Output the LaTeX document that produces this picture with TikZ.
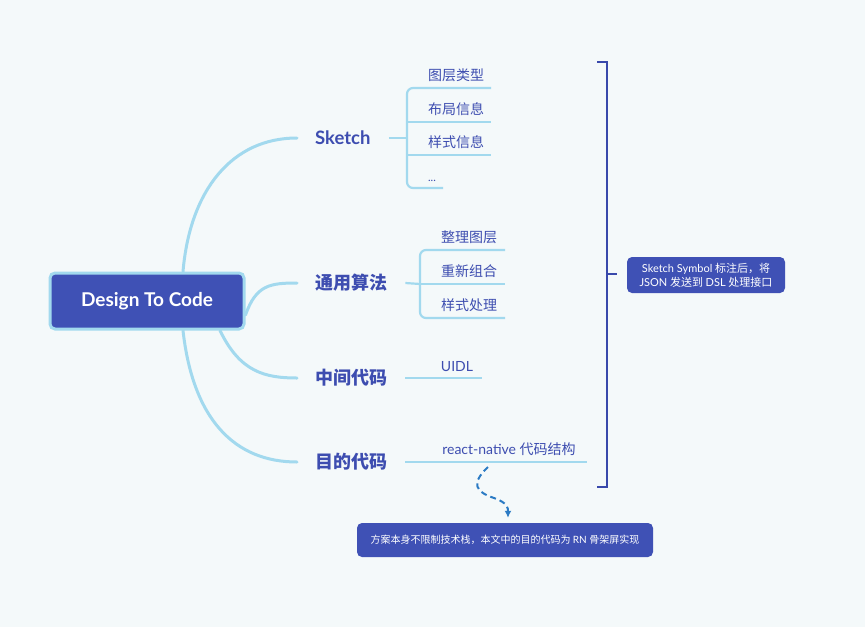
\documentclass[tikz,border=0pt]{standalone}
\usepackage{fontspec}
\setmainfont{Lato}
\newfontfamily\cjk{Noto Sans CJK SC}
\usetikzlibrary{arrows.meta}

\definecolor{bgcol}{HTML}{F4F9FA}
\definecolor{indigo}{HTML}{3F51B5}
\definecolor{skyline}{HTML}{A2D9EE}
\definecolor{topictext}{HTML}{3D4DB0}
\definecolor{bracecol}{HTML}{3949AB}
\definecolor{arrowcol}{HTML}{2B7BC4}

\tikzset{
  branch/.style={draw=skyline, line width=3pt, line cap=round},
  twig/.style={draw=skyline, line width=2.2pt, rounded corners=6pt},
  topic/.style={anchor=west, inner xsep=18pt, text=topictext, font=\cjk\bfseries\fontsize{18}{20}\selectfont},
  leaf/.style={anchor=south, inner xsep=3pt, inner ysep=6pt, text=topictext, font=\cjk\fontsize{14}{16}\selectfont},
  callout/.style={fill=indigo, rounded corners=5pt, text=white, align=center, font=\cjk\fontsize{10}{14}\selectfont}
}

\begin{document}
\begin{tikzpicture}[x=1pt, y=-1pt]

% background
\fill[bgcol] (0,0) rectangle (865,627);
\useasboundingbox (0,0) rectangle (865,627);

% central topic
\node[fill=indigo, draw=skyline, line width=3pt, rounded corners=5pt,
      minimum width=194pt, minimum height=56pt, text=white,
      font=\bfseries\fontsize{19}{21}\selectfont] (dtc) at (147,301) {Design To Code};

% main topics
\node[topic, font=\bfseries\fontsize{18.5}{20}\selectfont] (sketch) at (297,138) {Sketch};
\node[topic] (algo) at (297,283) {通用算法};
\node[topic] (mid) at (297,378) {中间代码};
\node[topic] (target) at (297,462) {目的代码};

% branches
\draw[branch] ([xshift=36pt]dtc.north) .. controls (190,190) and (232,138) .. (sketch.west);
\draw[branch] ([yshift=-14pt]dtc.east) .. controls (256,285) and (270,283) .. (algo.west);
\draw[branch] ([xshift=73pt]dtc.south) .. controls (240,372) and (265,378) .. (mid.west);
\draw[branch] ([xshift=36pt]dtc.south) .. controls (193,420) and (235,462) .. (target.west);

% Sketch leaves
\coordinate (sk) at (407,138);
\draw[twig] (sketch.east) -- (sk);
\draw[twig] (491,88) -- (407,88) -- (407,188) -- (443,188);
\draw[twig] (407,122) -- (491,122);
\draw[twig] (407,155) -- (491,155);
\node[leaf] (layertype) at (456,88) {图层类型};
\node[leaf] (layout) at (456,122) {布局信息};
\node[leaf] (style) at (456,155) {样式信息};
\node[leaf, font=\fontsize{11}{12}\selectfont] (more) at (432,188) {...};

% algorithm leaves
\coordinate (al) at (420,284);
\draw[twig] (algo.east) -- (al);
\draw[twig] (505,250) -- (420,250) -- (420,318) -- (505,318);
\draw[twig] (al) -- (505,284);
\node[leaf] (tidy) at (469,250) {整理图层};
\node[leaf] (regroup) at (469,284) {重新组合};
\node[leaf] (styleproc) at (469,318) {样式处理};

% intermediate code leaf
\coordinate (uidlend) at (482,378);
\draw[twig] (mid.east) -- (uidlend);
\node[leaf, font=\fontsize{14}{16}\selectfont] (uidl) at (457,378) {UIDL};

% target code leaf
\coordinate (rnend) at (587,462);
\draw[twig] (target.east) -- (rnend);
\node[leaf] (rn) at (509,462) {\rmfamily react-native \cjk 代码结构};

% big bracket
\draw[bracecol, line width=2.5pt] (597,62) -- (607,62) -- (607,487) -- (597,487);
\coordinate (bracemid) at (607,274);
\coordinate (bracetick) at (617,274);
\draw[bracecol, line width=2.5pt] (bracemid) -- (bracetick);

% callouts
\node[callout, minimum width=158pt, minimum height=36pt, font=\cjk\fontsize{11}{14}\selectfont] (dslnote) at (706,275)
  {\rmfamily Sketch Symbol \cjk 标注后，将\\\rmfamily JSON \cjk 发送到 \rmfamily DSL \cjk 处理接口};
\node[callout, minimum width=296pt, minimum height=34pt] (rnnote) at (505,540)
  {方案本身不限制技术栈，本文中的目的代码为 \rmfamily RN \cjk 骨架屏实现};

% dashed arrow
\coordinate (arrstart) at (488,467);
\draw[arrowcol, line width=2pt, dash pattern=on 6pt off 4pt, -{Latex[length=7pt,width=7pt]}]
  (arrstart) .. controls (470,484) and (476,492) .. (494,498)
  .. controls (508,503) and (508,508) .. ([yshift=5pt]rnnote.north -| 508,0);

\end{tikzpicture}
\end{document}
